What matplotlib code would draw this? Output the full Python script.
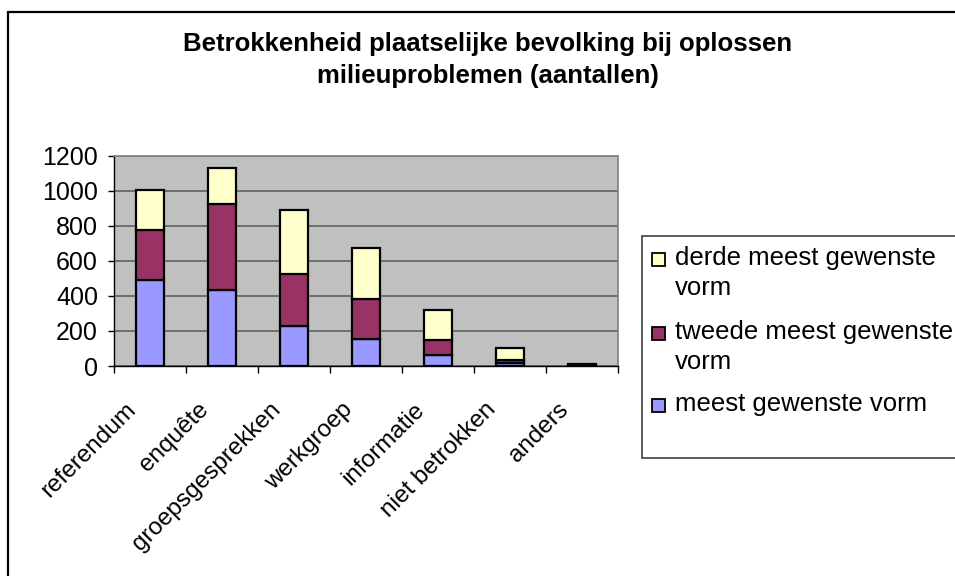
import matplotlib.pyplot as plt
import numpy as np
from matplotlib.patches import Rectangle
from matplotlib.transforms import ScaledTranslation

plt.rcParams["font.family"] = ["Liberation Sans", "DejaVu Sans"]

categories = ["referendum", "enquête", "groepsgesprekken", "werkgroep",
              "informatie", "niet betrokken", "anders"]
meest = [490, 433, 227, 157, 65, 17, 4]
tweede = [285, 491, 297, 228, 82, 17, 4]
derde = [230, 206, 366, 289, 171, 67, 5]

series = [
    ("meest gewenste vorm", meest, "#9999FF"),
    ("tweede meest gewenste\nvorm", tweede, "#993366"),
    ("derde meest gewenste\nvorm", derde, "#FFFFCC"),
]

W, H = 955, 576
fig = plt.figure(figsize=(W / 100, H / 100), dpi=100)
ax = fig.add_axes([114 / W, 1 - 366 / H, (618 - 114) / W, (366 - 156) / H])
ax.set_facecolor("#C0C0C0")

x = np.arange(len(categories))
bottom = np.zeros(len(categories))
for label, vals, color in series:
    ax.bar(x, vals, width=0.39, bottom=bottom, color=color,
           edgecolor="black", linewidth=1.6, label=label, zorder=3)
    bottom += np.array(vals)

ax.set_xlim(-0.5, len(categories) - 0.5)
ax.set_ylim(0, 1200)
ax.set_yticks(np.arange(0, 1201, 200))
ax.yaxis.grid(True, color="#606060", linewidth=1.2, zorder=0)
ax.tick_params(axis="y", labelsize=18, length=4.5, width=1, direction="out", pad=7)

ax.set_xticks(x)
ax.set_xticklabels(categories, rotation=45, ha="right", va="center",
                   rotation_mode="anchor", fontsize=17.5)
ax.tick_params(axis="x", which="major", length=0, pad=29)
shift = ScaledTranslation(-17 / 100, 0, fig.dpi_scale_trans)
for lab in ax.get_xticklabels():
    lab.set_transform(lab.get_transform() + shift)
ax.set_xticks(np.arange(-0.5, len(categories)), minor=True)
ax.tick_params(axis="x", which="minor", length=5, width=1, direction="out")

for s in ["top", "right"]:
    ax.spines[s].set_color("#808080")
    ax.spines[s].set_linewidth(1.2)
for s in ["left", "bottom"]:
    ax.spines[s].set_color("black")
    ax.spines[s].set_linewidth(1)

fig.text(488 / W, 1 - 60 / H,
         "Betrokkenheid plaatselijke bevolking bij oplossen\nmilieuproblemen (aantallen)",
         ha="center", va="center", fontsize=18.5, fontweight="bold",
         linespacing=1.4)

# legend box
fig.patches.append(Rectangle((642 / W, 1 - 458 / H), 0.5, (458 - 236) / H,
                             transform=fig.transFigure, facecolor="white",
                             edgecolor="#404040", linewidth=1.2))
legend_rows = [259, 333, 405]
for (label, vals, color), yc in zip(series[::-1], legend_rows):
    fig.patches.append(Rectangle((652 / W, 1 - (yc + 6.5) / H), 13 / W, 13 / H,
                                 transform=fig.transFigure, facecolor=color,
                                 edgecolor="black", linewidth=1.3))
    fig.text(675 / W, 1 - (yc - 13) / H, label, ha="left", va="top",
             fontsize=18.5, linespacing=1.3)

# outer border
fig.patches.append(Rectangle((8 / W, -0.05), 1.0, 1.05 - 12 / H,
                             transform=fig.transFigure, facecolor="none",
                             edgecolor="black", linewidth=1.6))

fig.savefig("out.png", dpi=100)
